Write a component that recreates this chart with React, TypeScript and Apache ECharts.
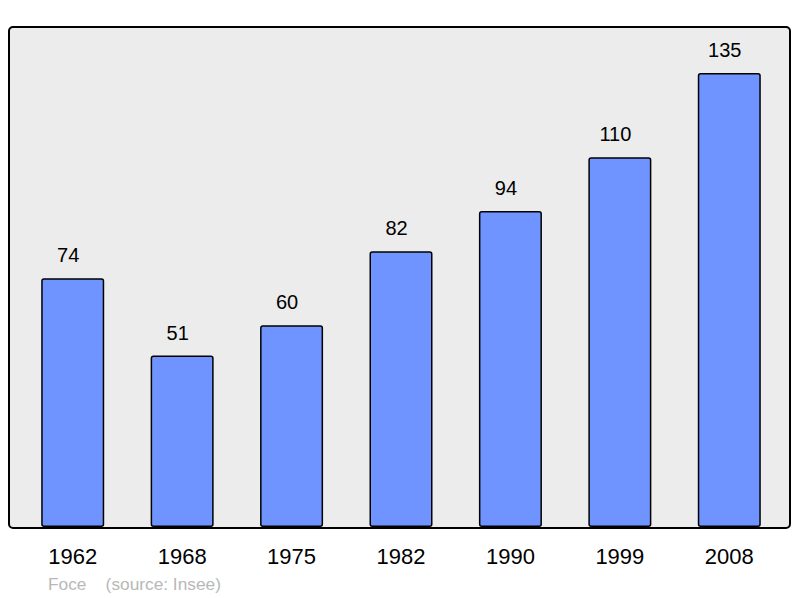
import React, { useEffect, useRef } from "react";
import * as echarts from "echarts";

const years = ["1962", "1968", "1975", "1982", "1990", "1999", "2008"];
const population = [74, 51, 60, 82, 94, 110, 135];
const footerName = "Foce";
const footerSource = "(source: Insee)";

export default function App() {
  const ref = useRef<HTMLDivElement>(null);
  useEffect(() => {
    if (!ref.current) return;
    const chart = echarts.init(ref.current, null, { renderer: "svg" });
    chart.setOption({
      animation: false,
      backgroundColor: "#ffffff",
      textStyle: { fontFamily: "Liberation Sans, Arial, sans-serif" },
      graphic: [
        {
          type: "rect",
          z: -10,
          shape: { x: 9, y: 27, width: 781, height: 501, r: 4 },
          style: { fill: "#ececec", stroke: "#000000", lineWidth: 2 },
        },
        {
          type: "text",
          x: 48,
          y: 584,
          style: {
            text: footerName + "    " + footerSource,
            fill: "#b8b8b8",
            font: "17.3px Liberation Sans, Arial, sans-serif",
            verticalAlign: "middle",
          },
        },
      ],
      grid: { left: 18, right: 16, top: 27, bottom: 71 },
      xAxis: {
        type: "category",
        data: years,
        axisLine: { show: false },
        axisTick: { show: false },
        axisLabel: {
          color: "#000000",
          fontSize: 22,
          margin: 18,
          fontFamily: "Liberation Sans, Arial, sans-serif",
        },
      },
      yAxis: {
        type: "value",
        min: 0,
        max: 148.7,
        show: false,
        splitLine: { show: false },
      },
      series: [
        {
          type: "bar",
          data: population,
          barWidth: 63,
          itemStyle: {
            color: "#7094ff",
            borderColor: "#000000",
            borderWidth: 1.5,
            borderRadius: 2,
          },
          label: {
            show: true,
            position: "top",
            distance: 13,
            offset: [-4.5, 0],
            color: "#000000",
            fontSize: 20,
            fontFamily: "Liberation Sans, Arial, sans-serif",
          },
        },
      ],
    });
    return () => chart.dispose();
  }, []);
  return (
    <div
      ref={ref}
      style={{ position: "fixed", left: 0, top: 0, width: 800, height: 598 }}
    />
  );
}
